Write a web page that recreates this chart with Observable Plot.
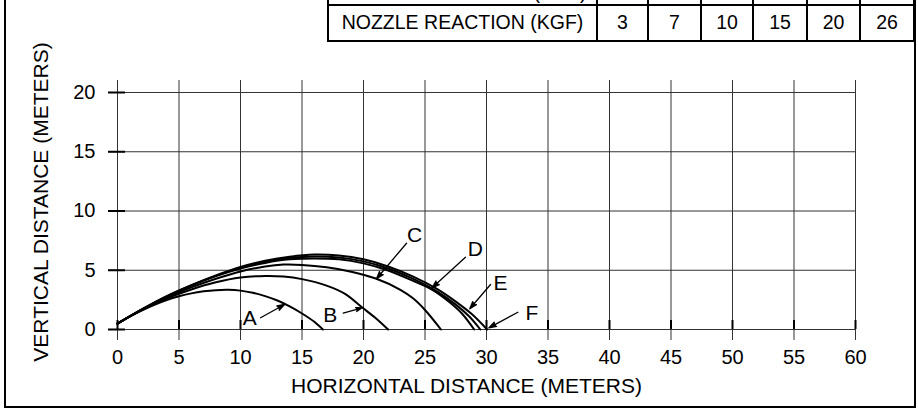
<!DOCTYPE html>
<html>
<head>
<meta charset="utf-8">
<script src="https://cdn.jsdelivr.net/npm/d3@7"></script>
<script src="https://cdn.jsdelivr.net/npm/@observablehq/plot@0.6"></script>
<style>
  html, body { margin: 0; padding: 0; background: #fff; }
  #wrap { position: relative; width: 918px; height: 412px; overflow: hidden; background: #fff;
          font-family: "Liberation Sans", Arial, Helvetica, sans-serif; color: #000; }
  #plot { position: absolute; left: 0; top: 0; }
  #frame { position: absolute; left: 4px; top: -10px; width: 912px; height: 418px; box-sizing: border-box;
           border-left: 2px solid #000; border-right: 2px solid #000; border-bottom: 2px solid #000; }
  .cell { position: absolute; box-sizing: border-box; border: 2px solid #000; display: flex;
          align-items: center; justify-content: center; font-size: 19.5px; white-space: nowrap; background: #fff; }
</style>
</head>
<body>
<div id="wrap">
  <div id="plot"></div>
  <div id="frame"></div>
  <div id="table"></div>
</div>
<script>
// ---------- data ----------
const xTicks = [0, 5, 10, 15, 20, 25, 30, 35, 40, 45, 50, 55, 60];
const yTicks = [0, 5, 10, 15, 20];
const xLabel = "HORIZONTAL DISTANCE (METERS)";
const yLabel = "VERTICAL DISTANCE (METERS)";

const seriesNames = ["A", "B", "C", "D", "E", "F"];
const curveA = [[0,0.5],[1,1.1],[2,1.62],[3,2.08],[4,2.48],[5,2.8],[6,3.05],[7,3.22],[8,3.32],[9,3.35],[10,3.28],[11,3.1],[12,2.82],[13,2.45],[14,1.95],[15,1.35],[16,0.65],[16.7,0]];
const curveB = [[0,0.5],[2,1.65],[4,2.62],[6,3.38],[8,3.98],[10,4.38],[12,4.52],[13.5,4.47],[15,4.25],[17,3.7],[18.5,3.0],[19.9,1.85],[21,0.95],[22,0]];
const curveC = [[0,0.5],[2,1.68],[4,2.7],[6,3.55],[8,4.28],[10,4.9],[12,5.32],[13.5,5.48],[15,5.45],[17,5.25],[19,4.88],[21,4.3],[23,3.35],[24,2.65],[25,1.65],[26.3,0]];
const curveD = [[0,0.5],[2,1.7],[4,2.78],[6,3.7],[8,4.5],[10,5.15],[12,5.62],[14,5.92],[16,6.0],[18,5.92],[20,5.58],[22,4.98],[24,4.12],[25.6,3.35],[27,2.3],[28,1.35],[29,0]];
const curveE = [[0,0.5],[2,1.7],[4,2.8],[6,3.72],[8,4.53],[10,5.22],[12,5.72],[14,6.05],[16,6.17],[18,6.08],[20,5.75],[22,5.15],[24,4.3],[26,3.2],[27.5,2.1],[28.6,1.1],[29.5,0]];
const curveF = [[0,0.5],[2,1.72],[4,2.82],[6,3.75],[8,4.57],[10,5.28],[12,5.8],[14,6.15],[16,6.33],[18,6.25],[20,5.92],[22,5.32],[24,4.48],[26,3.4],[27.5,2.35],[28.8,1.3],[30.05,0]];

const labelX = [10.75, 17.3, 24.15, 29.1, 31.14, 33.7];
const labelY = [0.95, 1.22, 7.99, 6.75, 3.92, 1.39];
const arrowFromX = [11.63, 18.35, 23.5, 28.29, 30.33, 32.55];
const arrowFromY = [0.99, 1.38, 7.28, 6.1, 3.8, 1.46];
const arrowToX = [13.58, 19.89, 21.06, 25.58, 28.64, 30.19];
const arrowToY = [2.11, 1.83, 4.28, 3.52, 1.75, 0.14];

const tableLabels = ["NOZZLE PRESSURE (BAR)", "NOZZLE REACTION (KGF)"];
const reactionValues = [3, 7, 10, 15, 20, 26];

// ---------- build tables for the library ----------
const curves = [curveA, curveB, curveC, curveD, curveE, curveF];
const lineRows = curves.flatMap((c, i) => c.map(([x, y]) => ({series: seriesNames[i], x, y})));
const labelRows = seriesNames.map((s, i) => ({text: s, x: labelX[i], y: labelY[i]}));
const arrowRows = seriesNames.map((s, i) => ({x1: arrowFromX[i], y1: arrowFromY[i], x2: arrowToX[i], y2: arrowToY[i]}));

const FONT = '"Liberation Sans", Arial, Helvetica, sans-serif';

const chart = Plot.plot({
  width: 918,
  height: 412,
  marginLeft: 117,
  marginRight: 63,
  marginTop: 92,
  marginBottom: 83,
  x: {domain: [0, 60]},
  y: {domain: [0, 20]},
  style: {fontFamily: FONT, fontSize: "20px", color: "#000", background: "transparent"},
  marks: [
    Plot.ruleX(xTicks, {x: d => d, stroke: "#333", strokeWidth: 1, insetTop: -12, insetBottom: -11}),
    Plot.ruleY(yTicks, {y: d => d, stroke: "#333", strokeWidth: 1, insetLeft: -9}),
    Plot.ruleX(xTicks, {x: d => d, stroke: "#000", strokeWidth: 2, insetTop: 228}),
    Plot.ruleY(yTicks, {y: d => d, stroke: "#000", strokeWidth: 2, insetLeft: -9, insetRight: 730}),
    Plot.axisX({ticks: xTicks, tickSize: 0, tickPadding: 20, label: null, fontSize: 20}),
    Plot.axisY({ticks: yTicks, tickSize: 0, tickPadding: 22, label: null, fontSize: 20}),
    Plot.text([xLabel], {text: d => d, frameAnchor: "bottom", dy: 57, dx: -20, fontSize: 21, lineAnchor: "middle", textAnchor: "middle"}),
    Plot.text([yLabel], {text: d => d, frameAnchor: "left", rotate: -90, dx: -76, dy: -9, fontSize: 21, lineAnchor: "middle", textAnchor: "middle"}),
    Plot.line(lineRows, {x: "x", y: "y", z: "series", stroke: "#000", strokeWidth: 2, curve: "catmull-rom"}),
    Plot.arrow(arrowRows, {x1: "x1", y1: "y1", x2: "x2", y2: "y2", stroke: "#000", fill: "#000", strokeWidth: 1.3, headLength: 9, headAngle: 36}),
    Plot.text(labelRows, {x: "x", y: "y", text: "text", fontSize: 21, lineAnchor: "middle"})
  ]
});
document.getElementById("plot").appendChild(chart);

// ---------- table (top right) ----------
const colEdges = [328, 597, 648, 701, 753, 807, 860, 914];
const rowEdges = [-31, 5, 41];
const tbl = document.getElementById("table");
function cell(r, c, text, extra) {
  const d = document.createElement("div");
  d.className = "cell";
  d.style.left = (colEdges[c] - 1) + "px";
  d.style.top = (rowEdges[r] - 1) + "px";
  d.style.width = (colEdges[c + 1] - colEdges[c] + 2) + "px";
  d.style.height = (rowEdges[r + 1] - rowEdges[r] + 2) + "px";
  if (extra) Object.assign(d.style, extra);
  d.textContent = text;
  tbl.appendChild(d);
}
cell(0, 0, tableLabels[0], {paddingTop: "10px"});
for (let i = 0; i < reactionValues.length; i++) cell(0, i + 1, "");
cell(1, 0, tableLabels[1], {paddingBottom: "2px"});
reactionValues.forEach((v, i) => cell(1, i + 1, String(v), {paddingBottom: "2px"}));
</script>
</body>
</html>
